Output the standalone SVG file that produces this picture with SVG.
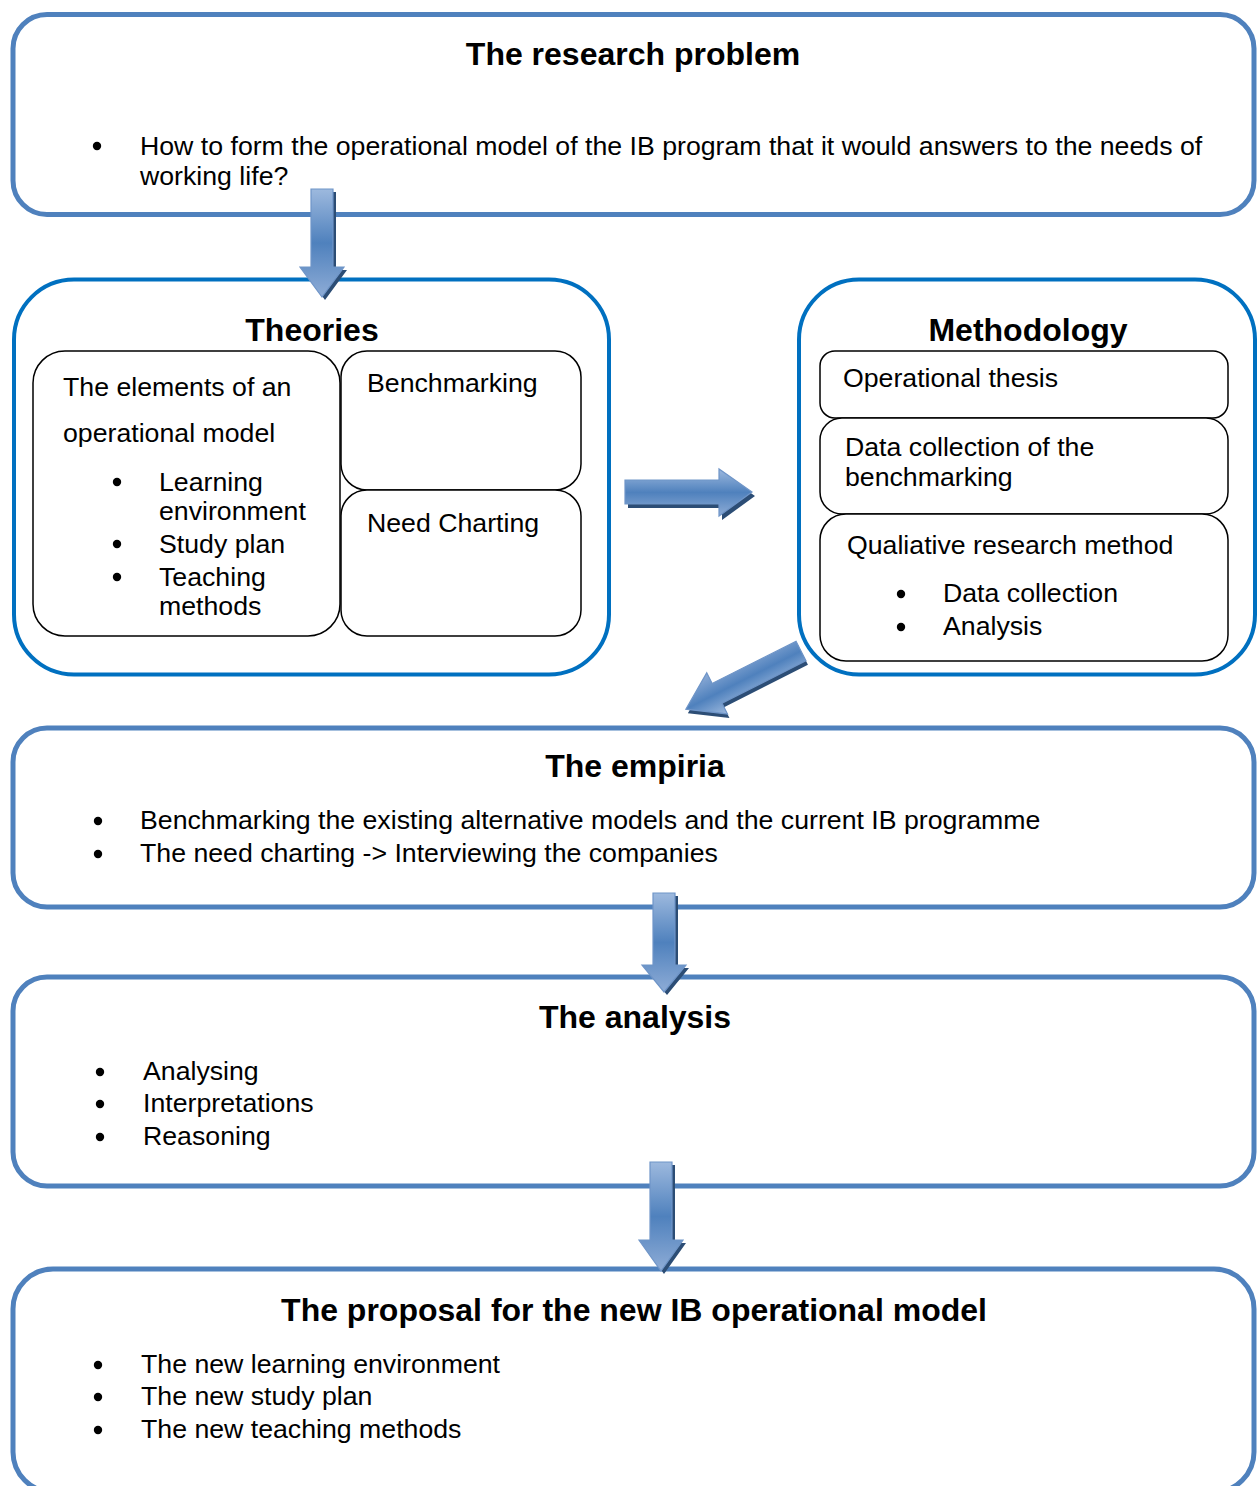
<svg xmlns="http://www.w3.org/2000/svg" width="1259" height="1486" viewBox="0 0 1259 1486">
<defs>
<linearGradient id="gv" x1="0" y1="0" x2="0" y2="1">
<stop offset="0" stop-color="#9DB9DE"/>
<stop offset="0.5" stop-color="#4F81BD"/>
<stop offset="1" stop-color="#8EACD6"/>
</linearGradient>
<style>
.outer{fill:#fff;stroke:#4F81BD;stroke-width:5}
.group{fill:#fff;stroke:#0070C0;stroke-width:4}
.inner{fill:#fff;stroke:#000;stroke-width:1.5}
.t{font-family:"Liberation Sans",Arial,sans-serif;font-size:26.7px;fill:#000}
.h{font-family:"Liberation Sans",Arial,sans-serif;font-size:32px;font-weight:bold;fill:#000;text-anchor:middle}
.bl{fill:#000}
.arr{fill:url(#gv);stroke:#6F95C8;stroke-width:1.2}
.sh{fill:#2C4D75}
</style>
</defs>

<g id="research-problem">
<rect class="outer" x="13" y="14.5" width="1241" height="200" rx="34"/>
<text class="h" x="633" y="65">The research problem</text>
<circle class="bl" cx="97" cy="146" r="4.2"/>
<text class="t" x="140" y="155">How to form the operational model of the IB program that it would answers to the needs of</text>
<text class="t" x="140" y="185">working life?</text>
</g>

<g id="theories">
<rect class="group" x="14" y="279.5" width="595" height="395" rx="60"/>
<text class="h" x="312" y="341">Theories</text>
<g id="elements">
<rect class="inner" x="33" y="351" width="307" height="285" rx="32"/>
<text class="t" x="63" y="396">The elements of an</text>
<text class="t" x="63" y="442">operational model</text>
<circle class="bl" cx="117" cy="482" r="4.2"/>
<text class="t" x="159" y="491">Learning</text>
<text class="t" x="159" y="520">environment</text>
<circle class="bl" cx="117" cy="544" r="4.2"/>
<text class="t" x="159" y="553">Study plan</text>
<circle class="bl" cx="117" cy="577" r="4.2"/>
<text class="t" x="159" y="586">Teaching</text>
<text class="t" x="159" y="615">methods</text>
</g>
<g id="benchmarking">
<rect class="inner" x="341" y="351" width="240" height="139" rx="26"/>
<text class="t" x="367" y="392">Benchmarking</text>
</g>
<g id="need-charting">
<rect class="inner" x="341" y="490" width="240" height="146" rx="26"/>
<text class="t" x="367" y="532">Need Charting</text>
</g>
</g>

<g id="methodology">
<rect class="group" x="799" y="279.5" width="456" height="395" rx="60"/>
<text class="h" x="1028" y="341">Methodology</text>
<g id="operational-thesis">
<rect class="inner" x="820" y="351" width="408" height="67" rx="15"/>
<text class="t" x="843" y="387">Operational thesis</text>
</g>
<g id="data-collection">
<rect class="inner" x="820" y="418" width="408" height="96" rx="22"/>
<text class="t" x="845" y="456">Data collection of the</text>
<text class="t" x="845" y="486">benchmarking</text>
</g>
<g id="qualitative">
<rect class="inner" x="820" y="514" width="408" height="147" rx="26"/>
<text class="t" x="847" y="554">Qualiative research method</text>
<circle class="bl" cx="901" cy="594" r="4.2"/>
<text class="t" x="943" y="602">Data collection</text>
<circle class="bl" cx="901" cy="627" r="4.2"/>
<text class="t" x="943" y="635">Analysis</text>
</g>
</g>

<g id="empiria">
<rect class="outer" x="13" y="728" width="1241" height="179" rx="34"/>
<text class="h" x="635" y="777">The empiria</text>
<circle class="bl" cx="98" cy="821" r="4.2"/>
<text class="t" x="140" y="829">Benchmarking the existing alternative models and the current IB programme</text>
<circle class="bl" cx="98" cy="854" r="4.2"/>
<text class="t" x="140" y="862">The need charting -&gt; Interviewing the companies</text>
</g>

<g id="analysis">
<rect class="outer" x="13" y="977" width="1241" height="209" rx="34"/>
<text class="h" x="635" y="1028">The analysis</text>
<circle class="bl" cx="100" cy="1072" r="4.2"/>
<text class="t" x="143" y="1080">Analysing</text>
<circle class="bl" cx="100" cy="1104" r="4.2"/>
<text class="t" x="143" y="1112">Interpretations</text>
<circle class="bl" cx="100" cy="1137" r="4.2"/>
<text class="t" x="143" y="1145">Reasoning</text>
</g>

<g id="proposal">
<rect class="outer" x="13" y="1269" width="1241" height="223" rx="40"/>
<text class="h" x="634" y="1321">The proposal for the new IB operational model</text>
<circle class="bl" cx="98" cy="1365" r="4.2"/>
<text class="t" x="141" y="1373">The new learning environment</text>
<circle class="bl" cx="98" cy="1397" r="4.2"/>
<text class="t" x="141" y="1405">The new study plan</text>
<circle class="bl" cx="98" cy="1430" r="4.2"/>
<text class="t" x="141" y="1438">The new teaching methods</text>
</g>

<g id="connectors">
<g>
<path class="sh" transform="translate(3,3)" d="M311,189 H333 V267 H344 L322,297 L300,267 H311 Z"/>
<path class="arr" d="M311,189 H333 V267 H344 L322,297 L300,267 H311 Z"/>
</g>
<g>
<path class="sh" transform="translate(3,4)" d="M625,480 H719 V469 L752,492 L719,516 V504 H625 Z"/>
<path class="arr" d="M625,480 H719 V469 L752,492 L719,516 V504 H625 Z"/>
</g>
<g transform="translate(801,651) rotate(153.2)">
<path class="sh" transform="rotate(-153.2) translate(2,4) rotate(153.2)" d="M0,-11 H94 V-23 L129,0 L94,23 V11 H0 Z"/>
<path class="arr" d="M0,-11 H94 V-23 L129,0 L94,23 V11 H0 Z"/>
</g>
<g>
<path class="sh" transform="translate(3,3)" d="M653,893 H675 V965 H686 L664,992 L642,965 H653 Z"/>
<path class="arr" d="M653,893 H675 V965 H686 L664,992 L642,965 H653 Z"/>
</g>
<g>
<path class="sh" transform="translate(3,3)" d="M650,1162 H672 V1240 H683 L661,1271 L639,1240 H650 Z"/>
<path class="arr" d="M650,1162 H672 V1240 H683 L661,1271 L639,1240 H650 Z"/>
</g>
</g>
</svg>
